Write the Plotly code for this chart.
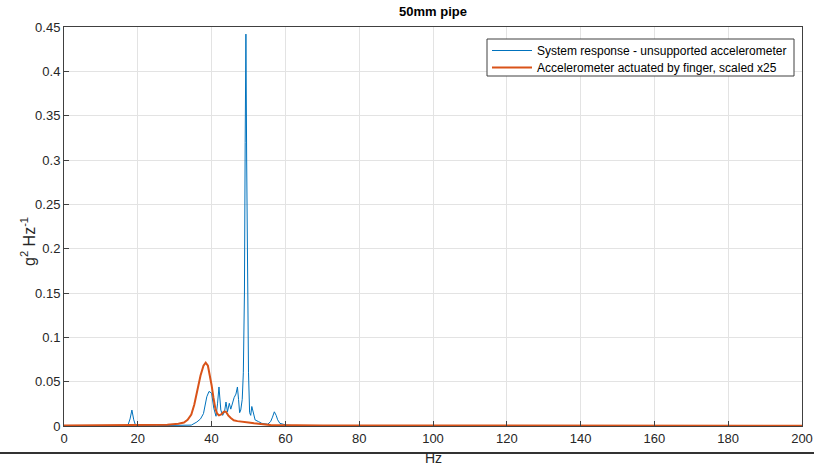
import plotly.graph_objects as go

# System response - unsupported accelerometer (blue)
sys_hz = [0, 10, 17.3, 17.9, 18.4, 18.9, 19.4, 25, 33, 34.5, 36.0, 37.0, 37.8, 38.7, 39.3,
          40.0, 40.6, 41.2, 41.6, 42.0, 42.5, 43.0, 43.5, 43.9, 44.3, 44.8, 45.2, 45.7,
          46.1, 46.6, 47.0, 47.3, 47.6, 47.9, 48.3, 48.6, 48.9, 49.1, 49.3, 49.5, 49.7,
          50.0, 50.3, 50.6, 50.9, 51.3, 51.8, 52.7, 53.6, 55.2, 56.0, 56.5, 57.0, 57.5,
          57.9, 58.5, 59.5, 60.3, 62, 70, 200]
sys_val = [0.0002, 0.0003, 0.0005, 0.008, 0.018, 0.007, 0.0005, 0.0004, 0.0006, 0.001,
           0.0045, 0.008, 0.014, 0.033, 0.039, 0.037, 0.020, 0.011, 0.025, 0.044, 0.018,
           0.012, 0.016, 0.027, 0.016, 0.0256, 0.019, 0.027, 0.032, 0.036, 0.044, 0.030,
           0.015, 0.018, 0.03, 0.06, 0.15, 0.32, 0.442, 0.30, 0.15, 0.06, 0.015, 0.012,
           0.022, 0.014, 0.0068, 0.005, 0.003, 0.002, 0.005, 0.010, 0.016, 0.012, 0.007,
           0.003, 0.002, 0.001, 0.0005, 0.0003, 0.0002]

# Accelerometer actuated by finger, scaled x25 (orange)
fin_hz = [0, 20, 28, 31, 32.5, 33.5, 34.5, 35.3, 36.0, 37.0, 37.8, 38.4, 39.0, 39.5,
          40.0, 40.5, 41.0, 41.5, 42.0, 42.6, 43.3, 43.9, 44.5, 45.2, 46.0, 47.0, 48.5,
          50.0, 51.5, 53.5, 56, 70, 200]
fin_val = [0.0005, 0.0008, 0.0015, 0.0025, 0.004, 0.007, 0.013, 0.024, 0.038, 0.057,
           0.068, 0.0715, 0.068, 0.058, 0.046, 0.032, 0.020, 0.014, 0.012, 0.013, 0.016,
           0.016, 0.012, 0.009, 0.0065, 0.0055, 0.005, 0.004, 0.003, 0.002, 0.001,
           0.0006, 0.0004]

x_ticks = [0, 20, 40, 60, 80, 100, 120, 140, 160, 180, 200]
y_ticks = [0, 0.05, 0.1, 0.15, 0.2, 0.25, 0.3, 0.35, 0.4, 0.45]

FONT = "Liberation Sans, Arial, Helvetica, sans-serif"
AX = "#404040"
L, R, T, B = 64, 802, 27, 426
PW, PH = R - L, B - T


def px_x(p):
    return (p - L) / PW


def px_y(p):
    return (B - p) / PH


fig = go.Figure()
fig.add_trace(go.Scatter(x=sys_hz, y=sys_val, mode="lines",
                         name="System response - unsupported accelerometer",
                         line=dict(color="#0072BD", width=1), legend="legend"))
fig.add_trace(go.Scatter(x=fin_hz, y=fin_val, mode="lines",
                         name="Accelerometer actuated by finger, scaled x25",
                         line=dict(color="#D95319", width=2), legend="legend2"))

leg_common = dict(xanchor="left", yanchor="top", bgcolor="rgba(0,0,0,0)",
                  borderwidth=0, font=dict(size=12, color="#000000"), itemwidth=40)

fig.update_layout(
    width=814, height=465,
    margin=dict(l=L, r=814 - R, t=T, b=465 - B, autoexpand=False),
    paper_bgcolor="white", plot_bgcolor="white",
    font=dict(family=FONT, size=12, color="#262626"),
    showlegend=True,
    legend=dict(x=px_x(487), y=px_y(36), **leg_common),
    legend2=dict(x=px_x(487), y=px_y(53), **leg_common),
    xaxis=dict(range=[0, 200], tickvals=x_ticks, ticks="inside", ticklen=5,
               tickcolor=AX, showline=True, linecolor=AX, linewidth=1, mirror=True,
               showgrid=True, gridcolor="#e3e3e3", zeroline=False, automargin=False,
               tickfont=dict(size=13, color="#262626")),
    yaxis=dict(range=[0, 0.45], tickvals=y_ticks, ticks="inside", ticklen=5,
               tickcolor=AX, showline=True, linecolor=AX, linewidth=1, mirror=True,
               showgrid=True, gridcolor="#e3e3e3", zeroline=False, automargin=False,
               tickfont=dict(size=13, color="#262626")),
    annotations=[
        dict(text="<b>50mm pipe</b>", xref="paper", yref="paper",
             x=0.5, y=px_y(11), xanchor="center", yanchor="middle",
             showarrow=False, font=dict(size=13, color="#000000")),
        dict(text="Hz", xref="paper", yref="paper",
             x=0.5, y=px_y(458), xanchor="center", yanchor="middle",
             showarrow=False, font=dict(size=14, color="#262626")),
        dict(text="g<sup>2</sup> Hz<sup>-1</sup>", xref="paper", yref="paper",
             x=px_x(28), y=px_y(242), xanchor="center", yanchor="middle",
             textangle=-90, showarrow=False, font=dict(size=16, color="#262626")),
    ],
    shapes=[
        dict(type="rect", xref="paper", yref="paper", layer="above",
             x0=px_x(487), x1=px_x(794), y0=px_y(76), y1=px_y(39),
             fillcolor="white", line=dict(color=AX, width=1)),
        dict(type="line", xref="paper", yref="paper",
             x0=-L / PW, x1=(814 - L) / PW, y0=px_y(453), y1=px_y(453),
             line=dict(color="#333333", width=2)),
    ],
)

fig.write_html("out.html", config={"displayModeBar": False},
               post_script="document.body.style.margin='0';document.body.style.padding='0';")
